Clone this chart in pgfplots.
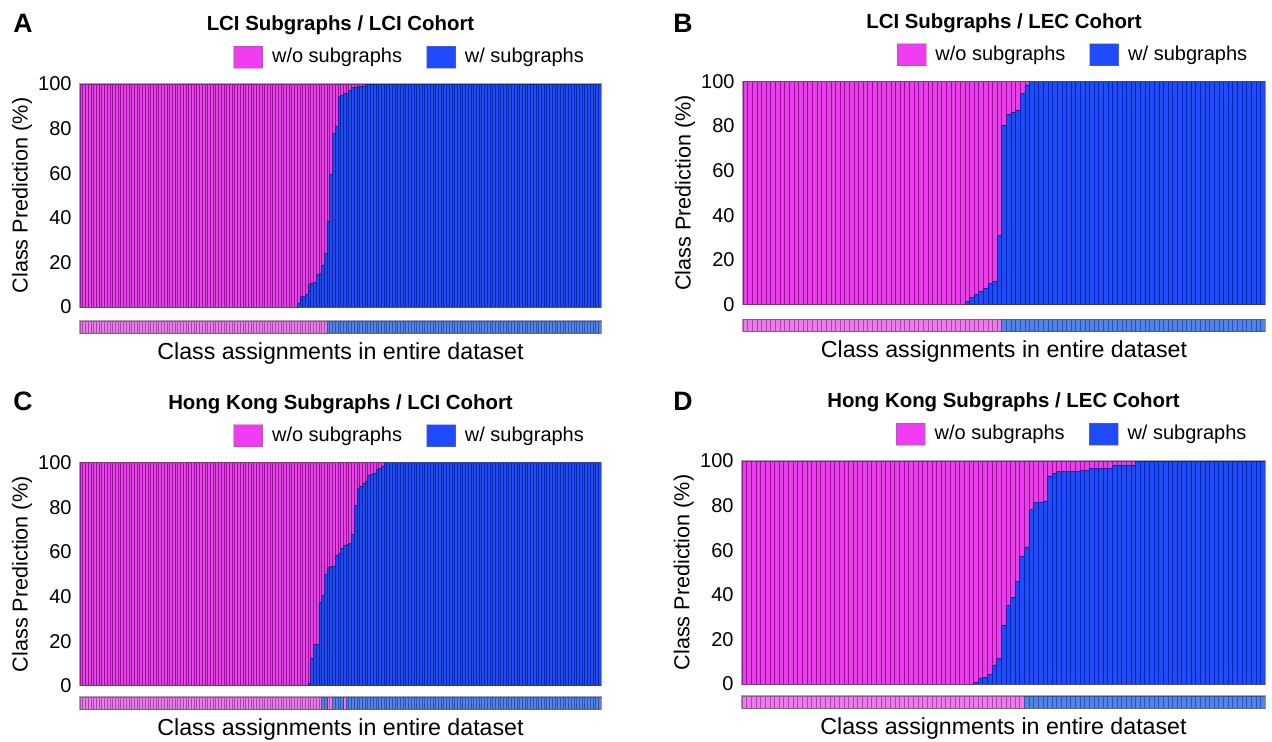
\documentclass[border=0pt]{standalone}
\usepackage{fontspec}
\setmainfont{Liberation Sans}
\usepackage{pgfplots}
\usepackage{pgfplotstable}
\pgfplotsset{compat=1.18}
\definecolor{pinkC}{RGB}{240,60,240}
\definecolor{blueC}{RGB}{30,75,255}
\definecolor{pinkL}{RGB}{240,120,240}
\definecolor{blueL}{RGB}{80,130,240}

% columns: b = w/ subgraphs (%), p = w/o subgraphs (%), c = class assignment (0 = w/o, 1 = w/)
\pgfplotstableread[row sep=\\]{b p c\\
0 100 0\\0 100 0\\0 100 0\\0 100 0\\0 100 0\\0 100 0\\0 100 0\\0 100 0\\0 100 0\\0 100 0\\
0 100 0\\0 100 0\\0 100 0\\0 100 0\\0 100 0\\0 100 0\\0 100 0\\0 100 0\\0 100 0\\0 100 0\\
0 100 0\\0 100 0\\0 100 0\\0 100 0\\0 100 0\\0 100 0\\0 100 0\\0 100 0\\0 100 0\\0 100 0\\
0 100 0\\0 100 0\\0 100 0\\0 100 0\\0 100 0\\0 100 0\\0 100 0\\0 100 0\\0 100 0\\0 100 0\\
0 100 0\\0 100 0\\0 100 0\\0 100 0\\0 100 0\\0 100 0\\0 100 0\\0 100 0\\0 100 0\\0 100 0\\
0 100 0\\0 100 0\\0 100 0\\0 100 0\\0 100 0\\0 100 0\\0 100 0\\0 100 0\\0 100 0\\0 100 0\\
0 100 0\\0 100 0\\0 100 0\\0 100 0\\0 100 0\\0 100 0\\0 100 0\\0 100 0\\0 100 0\\0 100 0\\
0 100 0\\0 100 0\\0 100 0\\0 100 0\\0 100 0\\0 100 0\\0 100 0\\0 100 0\\0 100 0\\0 100 0\\
1.5 98.5 0\\4.8 95.2 0\\4.8 95.2 0\\5.5 94.5 0\\10.2 89.8 0\\10.5 89.5 0\\11 89 0\\14.5 85.5 0\\15 85 0\\18.6 81.4 0\\
24 76 0\\38.5 61.5 1\\59.6 40.4 1\\77.8 22.2 1\\81 19 1\\94.5 5.5 1\\95 5 1\\95.8 4.2 1\\95.8 4.2 1\\97.3 2.7 1\\
98.5 1.5 1\\98.6 1.4 1\\98.8 1.2 1\\99 1 1\\99.1 0.9 1\\
100 0 1\\100 0 1\\100 0 1\\100 0 1\\100 0 1\\100 0 1\\100 0 1\\100 0 1\\100 0 1\\100 0 1\\
100 0 1\\100 0 1\\100 0 1\\100 0 1\\100 0 1\\100 0 1\\100 0 1\\100 0 1\\100 0 1\\100 0 1\\
100 0 1\\100 0 1\\100 0 1\\100 0 1\\100 0 1\\100 0 1\\100 0 1\\100 0 1\\100 0 1\\100 0 1\\
100 0 1\\100 0 1\\100 0 1\\100 0 1\\100 0 1\\100 0 1\\100 0 1\\100 0 1\\100 0 1\\100 0 1\\
100 0 1\\100 0 1\\100 0 1\\100 0 1\\100 0 1\\100 0 1\\100 0 1\\100 0 1\\100 0 1\\100 0 1\\
100 0 1\\100 0 1\\100 0 1\\100 0 1\\100 0 1\\100 0 1\\100 0 1\\100 0 1\\100 0 1\\100 0 1\\
100 0 1\\100 0 1\\100 0 1\\100 0 1\\100 0 1\\100 0 1\\100 0 1\\100 0 1\\100 0 1\\100 0 1\\
100 0 1\\100 0 1\\100 0 1\\100 0 1\\100 0 1\\100 0 1\\100 0 1\\100 0 1\\100 0 1\\100 0 1\\
100 0 1\\100 0 1\\100 0 1\\100 0 1\\100 0 1\\100 0 1\\100 0 1\\
}\tA

\pgfplotstableread[row sep=\\]{b p c\\
0 100 0\\0 100 0\\0 100 0\\0 100 0\\0 100 0\\0 100 0\\0 100 0\\0 100 0\\0 100 0\\0 100 0\\
0 100 0\\0 100 0\\0 100 0\\0 100 0\\0 100 0\\0 100 0\\0 100 0\\0 100 0\\0 100 0\\0 100 0\\
0 100 0\\0 100 0\\0 100 0\\0 100 0\\0 100 0\\0 100 0\\0 100 0\\0 100 0\\0 100 0\\0 100 0\\
0 100 0\\0 100 0\\0 100 0\\0 100 0\\0 100 0\\0 100 0\\0 100 0\\0 100 0\\0 100 0\\0 100 0\\
0 100 0\\0 100 0\\0 100 0\\0 100 0\\0 100 0\\0 100 0\\0 100 0\\0 100 0\\
1.3 98.7 0\\3.1 96.9 0\\4.6 95.4 0\\5.8 94.2 0\\7.3 92.7 0\\9.5 90.5 0\\10.4 89.6 0\\31 69 0\\80.6 19.4 1\\85.1 14.9 1\\
86.3 13.7 1\\87.3 12.7 1\\94.6 5.4 1\\98.5 1.5 1\\
100 0 1\\100 0 1\\100 0 1\\100 0 1\\100 0 1\\100 0 1\\100 0 1\\100 0 1\\100 0 1\\100 0 1\\
100 0 1\\100 0 1\\100 0 1\\100 0 1\\100 0 1\\100 0 1\\100 0 1\\100 0 1\\100 0 1\\100 0 1\\
100 0 1\\100 0 1\\100 0 1\\100 0 1\\100 0 1\\100 0 1\\100 0 1\\100 0 1\\100 0 1\\100 0 1\\
100 0 1\\100 0 1\\100 0 1\\100 0 1\\100 0 1\\100 0 1\\100 0 1\\100 0 1\\100 0 1\\100 0 1\\
100 0 1\\100 0 1\\100 0 1\\100 0 1\\100 0 1\\100 0 1\\100 0 1\\100 0 1\\100 0 1\\100 0 1\\
100 0 1\\
}\tB

\pgfplotstableread[row sep=\\]{b p c\\
0 100 0\\0 100 0\\0 100 0\\0 100 0\\0 100 0\\0 100 0\\0 100 0\\0 100 0\\0 100 0\\0 100 0\\
0 100 0\\0 100 0\\0 100 0\\0 100 0\\0 100 0\\0 100 0\\0 100 0\\0 100 0\\0 100 0\\0 100 0\\
0 100 0\\0 100 0\\0 100 0\\0 100 0\\0 100 0\\0 100 0\\0 100 0\\0 100 0\\0 100 0\\0 100 0\\
0 100 0\\0 100 0\\0 100 0\\0 100 0\\0 100 0\\0 100 0\\0 100 0\\0 100 0\\0 100 0\\0 100 0\\
0 100 0\\0 100 0\\0 100 0\\0 100 0\\0 100 0\\0 100 0\\0 100 0\\0 100 0\\0 100 0\\0 100 0\\
0 100 0\\0 100 0\\0 100 0\\0 100 0\\0 100 0\\0 100 0\\0 100 0\\0 100 0\\0 100 0\\0 100 0\\
0 100 0\\0 100 0\\0 100 0\\0 100 0\\0 100 0\\0 100 0\\0 100 0\\0 100 0\\0 100 0\\0 100 0\\
0 100 0\\0 100 0\\0 100 0\\0 100 0\\0 100 0\\0 100 0\\0 100 0\\0 100 0\\0 100 0\\0 100 0\\
0 100 0\\0 100 0\\0 100 0\\0 100 0\\
1.3 98.7 0\\12.4 87.6 0\\18.7 81.3 0\\18.7 81.3 0\\37.5 62.5 0\\40.6 59.4 1\\50 50 1\\53 47 0\\53.6 46.4 0\\53.6 46.4 1\\
58.5 41.5 1\\59.3 40.7 1\\61.5 38.5 1\\62.8 37.2 0\\63.3 36.7 1\\63.9 36.1 1\\68 32 1\\80.9 19.1 1\\88.4 11.6 1\\89.3 10.7 1\\
90.6 9.4 1\\91.6 8.4 1\\94.3 5.7 1\\95 5 1\\95.5 4.5 1\\97 3 1\\97.3 2.7 1\\98.4 1.6 1\\
100 0 1\\100 0 1\\100 0 1\\100 0 1\\100 0 1\\100 0 1\\100 0 1\\100 0 1\\100 0 1\\100 0 1\\
100 0 1\\100 0 1\\100 0 1\\100 0 1\\100 0 1\\100 0 1\\100 0 1\\100 0 1\\100 0 1\\100 0 1\\
100 0 1\\100 0 1\\100 0 1\\100 0 1\\100 0 1\\100 0 1\\100 0 1\\100 0 1\\100 0 1\\100 0 1\\
100 0 1\\100 0 1\\100 0 1\\100 0 1\\100 0 1\\100 0 1\\100 0 1\\100 0 1\\100 0 1\\100 0 1\\
100 0 1\\100 0 1\\100 0 1\\100 0 1\\100 0 1\\100 0 1\\100 0 1\\100 0 1\\100 0 1\\100 0 1\\
100 0 1\\100 0 1\\100 0 1\\100 0 1\\100 0 1\\100 0 1\\100 0 1\\100 0 1\\100 0 1\\100 0 1\\
100 0 1\\100 0 1\\100 0 1\\100 0 1\\100 0 1\\100 0 1\\100 0 1\\100 0 1\\100 0 1\\100 0 1\\
100 0 1\\100 0 1\\100 0 1\\100 0 1\\100 0 1\\100 0 1\\100 0 1\\100 0 1\\100 0 1\\100 0 1\\
}\tC

\pgfplotstableread[row sep=\\]{b p c\\
0 100 0\\0 100 0\\0 100 0\\0 100 0\\0 100 0\\0 100 0\\0 100 0\\0 100 0\\0 100 0\\0 100 0\\
0 100 0\\0 100 0\\0 100 0\\0 100 0\\0 100 0\\0 100 0\\0 100 0\\0 100 0\\0 100 0\\0 100 0\\
0 100 0\\0 100 0\\0 100 0\\0 100 0\\0 100 0\\0 100 0\\0 100 0\\0 100 0\\0 100 0\\0 100 0\\
0 100 0\\0 100 0\\0 100 0\\0 100 0\\0 100 0\\0 100 0\\0 100 0\\0 100 0\\0 100 0\\0 100 0\\
0 100 0\\0 100 0\\0 100 0\\0 100 0\\0 100 0\\0 100 0\\0 100 0\\0 100 0\\0 100 0\\0 100 0\\
0.9 99.1 0\\2.7 97.3 0\\3 97 0\\4.3 95.7 0\\8.6 91.4 0\\11.5 88.5 0\\26.5 73.5 0\\35.5 64.5 0\\39 61 0\\46.2 53.8 0\\
57.1 42.9 0\\61.5 38.5 1\\78.2 21.8 1\\81.5 18.5 1\\81.7 18.3 1\\82.1 17.9 1\\93.3 6.7 1\\94.3 5.7 1\\95.2 4.8 1\\95.2 4.8 1\\
95.4 4.6 1\\95.4 4.6 1\\95.5 4.5 1\\95.8 4.2 1\\95.8 4.2 1\\96.8 3.2 1\\96.8 3.2 1\\96.8 3.2 1\\96.8 3.2 1\\96.8 3.2 1\\
98.2 1.8 1\\98.2 1.8 1\\98.2 1.8 1\\98.2 1.8 1\\98.2 1.8 1\\
100 0 1\\100 0 1\\100 0 1\\100 0 1\\100 0 1\\100 0 1\\100 0 1\\100 0 1\\100 0 1\\100 0 1\\
100 0 1\\100 0 1\\100 0 1\\100 0 1\\100 0 1\\100 0 1\\100 0 1\\100 0 1\\100 0 1\\100 0 1\\
100 0 1\\100 0 1\\100 0 1\\100 0 1\\100 0 1\\100 0 1\\100 0 1\\100 0 1\\
}\tD

\pgfplotsset{
  mainax/.style={
    scale only axis, height=111.5pt,
    ymin=0, ymax=100, ytick={0,20,40,60,80,100},
    xtick=\empty, ybar stacked, bar width=1,
    tick align=inside, ytick pos=left, major tick length=6.5pt,
    ytick style={draw=black!70, line width=0.5pt},
    axis line style={draw=black!35, line width=0.6pt},
    tick label style={font=\fontsize{10}{12}\selectfont},
    /pgf/number format/assume math mode=true,
    yticklabel style={inner sep=0pt, xshift=-4pt},
    ylabel={Class Prediction (\%)},
    ylabel style={at={(axis description cs:-0.1113,0.5)}, anchor=center, font=\fontsize{10.8}{13}\selectfont},
    title style={at={(axis description cs:0.5,1)}, anchor=base, yshift=20.75pt, font=\fontsize{10.2}{12}\selectfont\bfseries},
    legend style={draw=none, fill=none, legend columns=2, at={(axis description cs:0.2934,1)}, anchor=west, yshift=13.5pt, inner sep=0pt, font=\fontsize{10}{12}\selectfont,
      /tikz/every odd column/.append style={column sep=2.5pt},
      /tikz/every even column/.append style={column sep=10pt}},
    reverse legend,
  },
  stripax/.style={
    scale only axis, height=6pt, ymin=0, ymax=1,
    xtick=\empty, ytick=\empty, ybar=0pt, bar width=1,
    axis line style={draw=black!35, line width=0.6pt},
    xlabel={Class assignments in entire dataset},
    xlabel style={at={(axis description cs:0.5,0)}, anchor=base, yshift=-13pt, font=\fontsize{11.6}{14}\selectfont},
  },
  bluebar/.style={fill=blueC, draw=black, draw opacity=0.45, line width=0.25pt,
    legend image code/.code={\draw[fill=blueC, draw=black!55, line width=0.4pt] (0pt,-5.5pt) rectangle (14.5pt,5.5pt);}},
  pinkbar/.style={fill=pinkC, draw=black, draw opacity=0.45, line width=0.25pt,
    legend image code/.code={\draw[fill=pinkC, draw=black!55, line width=0.4pt] (0pt,-5.5pt) rectangle (14.5pt,5.5pt);}},
  pinkstrip/.style={fill=pinkL, draw=black, draw opacity=0.35, line width=0.25pt, bar shift=0pt},
  bluestrip/.style={fill=blueL, draw=black, draw opacity=0.35, line width=0.25pt, bar shift=0pt},
}

\begin{document}
\begin{tikzpicture}
\useasboundingbox (0,0) rectangle (636pt,-370.5pt);

% ---------- A ----------
\begin{axis}[mainax, width=260.5pt, at={(40pt,-153.5pt)}, anchor=south west,
  xmin=-0.5, xmax=191.5, title={LCI Subgraphs / LCI Cohort}]
\addplot[bluebar] table[x expr=\coordindex, y=b] {\tA};
\addlegendentry{w/ subgraphs}
\addplot[pinkbar] table[x expr=\coordindex, y=p] {\tA};
\addlegendentry{w/o subgraphs}
\end{axis}
\begin{axis}[stripax, width=260.5pt, at={(40pt,-166.5pt)}, anchor=south west, xmin=-0.5, xmax=191.5]
\addplot[pinkstrip] table[x expr=\coordindex, y expr=1, restrict expr to domain={\thisrow{c}}{0:0}] {\tA};
\addplot[bluestrip] table[x expr=\coordindex, y expr=1, restrict expr to domain={\thisrow{c}}{1:1}] {\tA};
\end{axis}

% ---------- B ----------
\begin{axis}[mainax, width=261pt, at={(371.5pt,-152.25pt)}, anchor=south west,
  xmin=-0.5, xmax=112.5, title={LCI Subgraphs / LEC Cohort}]
\addplot[bluebar] table[x expr=\coordindex, y=b] {\tB};
\addlegendentry{w/ subgraphs}
\addplot[pinkbar] table[x expr=\coordindex, y=p] {\tB};
\addlegendentry{w/o subgraphs}
\end{axis}
\begin{axis}[stripax, width=261pt, at={(371.5pt,-165.75pt)}, anchor=south west, xmin=-0.5, xmax=112.5]
\addplot[pinkstrip] table[x expr=\coordindex, y expr=1, restrict expr to domain={\thisrow{c}}{0:0}] {\tB};
\addplot[bluestrip] table[x expr=\coordindex, y expr=1, restrict expr to domain={\thisrow{c}}{1:1}] {\tB};
\end{axis}

% ---------- C ----------
\begin{axis}[mainax, width=260.5pt, at={(40pt,-342.85pt)}, anchor=south west,
  xmin=-0.5, xmax=191.5, title={Hong Kong Subgraphs / LCI Cohort}]
\addplot[bluebar] table[x expr=\coordindex, y=b] {\tC};
\addlegendentry{w/ subgraphs}
\addplot[pinkbar] table[x expr=\coordindex, y=p] {\tC};
\addlegendentry{w/o subgraphs}
\end{axis}
\begin{axis}[stripax, width=260.5pt, at={(40pt,-354.5pt)}, anchor=south west, xmin=-0.5, xmax=191.5]
\addplot[pinkstrip] table[x expr=\coordindex, y expr=1, restrict expr to domain={\thisrow{c}}{0:0}] {\tC};
\addplot[bluestrip] table[x expr=\coordindex, y expr=1, restrict expr to domain={\thisrow{c}}{1:1}] {\tC};
\end{axis}

% ---------- D ----------
\begin{axis}[mainax, width=261.5pt, at={(371pt,-342pt)}, anchor=south west,
  xmin=-0.5, xmax=112.5, title={Hong Kong Subgraphs / LEC Cohort}]
\addplot[bluebar] table[x expr=\coordindex, y=b] {\tD};
\addlegendentry{w/ subgraphs}
\addplot[pinkbar] table[x expr=\coordindex, y=p] {\tD};
\addlegendentry{w/o subgraphs}
\end{axis}
\begin{axis}[stripax, width=261.5pt, at={(371pt,-354pt)}, anchor=south west, xmin=-0.5, xmax=112.5]
\addplot[pinkstrip] table[x expr=\coordindex, y expr=1, restrict expr to domain={\thisrow{c}}{0:0}] {\tD};
\addplot[bluestrip] table[x expr=\coordindex, y expr=1, restrict expr to domain={\thisrow{c}}{1:1}] {\tD};
\end{axis}

% panel letters
\node[anchor=base west, inner sep=0pt, font=\fontsize{13.3}{16}\selectfont\bfseries] at (6.5pt,-16.2pt) {A};
\node[anchor=base west, inner sep=0pt, font=\fontsize{13.3}{16}\selectfont\bfseries] at (336.5pt,-16.2pt) {B};
\node[anchor=base west, inner sep=0pt, font=\fontsize{13.3}{16}\selectfont\bfseries] at (6.5pt,-205.2pt) {C};
\node[anchor=base west, inner sep=0pt, font=\fontsize{13.3}{16}\selectfont\bfseries] at (336.5pt,-205.2pt) {D};
\end{tikzpicture}
\end{document}
